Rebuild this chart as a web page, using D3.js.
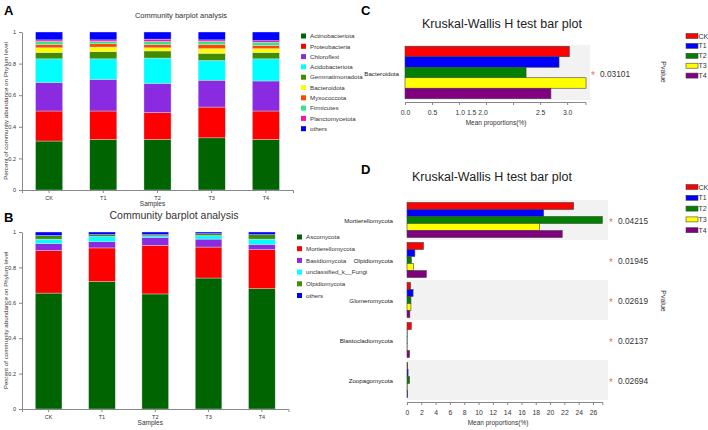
<!DOCTYPE html>
<html>
<head>
<meta charset="utf-8">
<script src="https://cdn.jsdelivr.net/npm/d3@7"></script>
<style>
  body { margin: 0; background: #fff; }
  text { font-family: "Liberation Sans", Arial, sans-serif; }
  .axis path, .axis line { stroke: #888; }
  .axis text { fill: #333; }
</style>
</head>
<body>
<div id="chart"></div>
<script>
// samples / groups
var samples = ["CK", "T1", "T2", "T3", "T4"];

// panel A - bacteria phyla (bottom to top)
var bacPhyla = ["Actinobacteriota", "Proteobacteria", "Chloroflexi", "Acidobacteriota",
  "Gemmatimonadota", "Bacteroidota", "Myxococcota", "Firmicutes", "Planctomycetota", "others"];
var bacColors = ["#006400", "#ff0000", "#8a2be2", "#00ffff", "#458b00",
  "#ffff00", "#ff4500", "#2ee88a", "#ff1493", "#0000ff"];
// rows = phylum, cols = CK,T1,T2,T3,T4
var bacAbund = [
  [0.31, 0.32, 0.32, 0.33, 0.32],
  [0.19, 0.18, 0.17, 0.195, 0.18],
  [0.18, 0.20, 0.185, 0.17, 0.19],
  [0.15, 0.13, 0.16, 0.125, 0.14],
  [0.04, 0.045, 0.045, 0.045, 0.04],
  [0.03, 0.03, 0.02, 0.03, 0.025],
  [0.02, 0.02, 0.02, 0.025, 0.02],
  [0.02, 0.015, 0.02, 0.02, 0.02],
  [0.01, 0.01, 0.015, 0.01, 0.01],
  [0.05, 0.05, 0.045, 0.05, 0.055]
];

// panel B - fungi phyla
var funPhyla = ["Ascomycota", "Mortierellomycota", "Basidiomycota", "unclassified_k__Fungi", "Olpidiomycota", "others"];
var funColors = ["#006400", "#ff0000", "#8a2be2", "#00ffff", "#458b00", "#0000ff"];
var funAbund = [
  [0.655, 0.72, 0.65, 0.74, 0.68],
  [0.24, 0.19, 0.275, 0.175, 0.22],
  [0.04, 0.035, 0.045, 0.045, 0.03],
  [0.025, 0.03, 0.008, 0.02, 0.03],
  [0.02, 0.01, 0.007, 0.01, 0.025],
  [0.02, 0.015, 0.015, 0.01, 0.015]
];
var abundTicks = [0, 0.2, 0.4, 0.6, 0.8, 1];

// panel C / D - Kruskal-Wallis
var groupColors = ["#ff0000", "#0000ff", "#008000", "#ffff00", "#800080"];
var kwCTaxa = ["Bacteroidota"];
var kwCMeans = [[3.04, 2.85, 2.24, 3.35, 2.70]];
var kwCP = ["0.03101"];
var kwCTicks = [0, 0.5, 1, 1.5, 2, 2.5, 3];
var kwCTickLabels = ["0.0", "0.5", "1.0 1.5 2.0", "", "", "2.5", "3.0"];

var kwDTaxa = ["Mortierellomycota", "Olpidiomycota", "Glomeromycota", "Blastocladiomycota", "Zoopagomycota"];
var kwDMeans = [
  [23.3, 19.1, 27.3, 18.5, 21.7],
  [2.3, 1.1, 0.6, 0.9, 2.7],
  [0.5, 0.85, 0.55, 0.55, 0.4],
  [0.6, 0.03, 0.03, 0.03, 0.35],
  [0.1, 0.15, 0.35, 0.05, 0.1]
];
var kwDP = ["0.04215", "0.01945", "0.02619", "0.02137", "0.02694"];
var kwDTicks = d3.range(0, 27, 2);

var svg = d3.select("#chart").append("svg")
  .attr("width", 708).attr("height", 430);

function panelLetter(x, y, t) {
  svg.append("text").attr("x", x).attr("y", y)
    .attr("font-size", 13).attr("font-weight", "bold").text(t);
}

// stacked barplot
function stackedPanel(opt) {
  var x = d3.scaleBand().domain(samples).range([opt.x0, opt.x1])
    .paddingInner(0.5).paddingOuter(0.25);
  var y = d3.scaleLinear().domain([0, 1]).range([opt.y0, opt.y1]);

  var rows = samples.map(function(s, j) {
    var r = { sample: s };
    opt.phyla.forEach(function(p, i) { r[p] = opt.abund[i][j]; });
    return r;
  });
  var series = d3.stack().keys(opt.phyla)(rows);

  var g = svg.append("g");
  g.selectAll("g.layer").data(series).enter().append("g")
    .attr("fill", function(d, i) { return opt.colors[i]; })
    .selectAll("rect").data(function(d) { return d; }).enter().append("rect")
    .attr("x", function(d) { return x(d.data.sample); })
    .attr("width", x.bandwidth())
    .attr("y", function(d) { return y(Math.min(d[1], 1)); })
    .attr("height", function(d) { return y(d[0]) - y(Math.min(d[1], 1)); })
    .attr("stroke", "#dde4ee").attr("stroke-width", 0.4);

  var yAxis = g.append("g").attr("class", "axis")
    .attr("transform", "translate(" + opt.x0 + ",0)")
    .call(d3.axisLeft(y).tickValues(abundTicks).tickFormat(d3.format("~g")).tickSize(3).tickSizeOuter(0));
  yAxis.selectAll("text").attr("font-size", 5.5);

  var xAxis = g.append("g").attr("class", "axis")
    .attr("transform", "translate(0," + opt.y0 + ")")
    .call(d3.axisBottom(x).tickSize(3));
  xAxis.selectAll("text").attr("font-size", 5.5);

  svg.append("text").attr("x", (opt.x0 + opt.x1) / 2 - 5).attr("y", opt.y0 + 16)
    .attr("text-anchor", "middle").attr("font-size", 6.5).attr("fill", "#333").text("Samples");
  svg.append("text")
    .attr("transform", "translate(" + 8 + "," + ((opt.y0 + opt.y1) / 2) + ")rotate(-90)")
    .attr("text-anchor", "middle").attr("font-size", 6.2).attr("fill", "#333")
    .text("Percent of community abundance on Phylum level");
  svg.append("text").attr("x", opt.titleX).attr("y", opt.titleY)
    .attr("text-anchor", "middle").attr("font-size", opt.titleSize).attr("fill", "#333")
    .text("Community barplot analysis");

  var leg = svg.append("g").attr("transform", "translate(" + opt.legX + "," + opt.legY + ")");
  opt.phyla.forEach(function(p, i) {
    leg.append("rect").attr("x", 0).attr("y", i * opt.legStep - 2.5)
      .attr("width", 5).attr("height", 5).attr("fill", opt.colors[i]);
    leg.append("text").attr("x", 9).attr("y", i * opt.legStep + 2.2)
      .attr("font-size", 6.2).attr("fill", "#333").text(p);
  });
}

panelLetter(4, 15, "A");
stackedPanel({ phyla: bacPhyla, colors: bacColors, abund: bacAbund,
  x0: 22, x1: 293, y0: 190, y1: 32, titleX: 181, titleY: 18, titleSize: 7.5,
  legX: 301, legY: 36, legStep: 10.3 });

panelLetter(4, 222, "B");
stackedPanel({ phyla: funPhyla, colors: funColors, abund: funAbund,
  x0: 22, x1: 288.5, y0: 409, y1: 232, titleX: 174, titleY: 219, titleSize: 10.5,
  legX: 297, legY: 237, legStep: 11.7 });

// Kruskal-Wallis bar plot
function kwPanel(opt) {
  var x = d3.scaleLinear().domain([0, opt.xMax]).range([opt.x0, opt.x1]);
  var yb = d3.scaleBand().domain(opt.taxa).range([opt.y0, opt.y1]);
  var yi = d3.scaleBand().domain(samples).range([0, yb.bandwidth()])
    .paddingOuter(opt.innerPad);

  var g = svg.append("g");
  g.selectAll("rect.bg").data(opt.taxa).enter().append("rect")
    .attr("x", opt.x0).attr("width", opt.bgRight - opt.x0)
    .attr("y", function(d) { return yb(d); }).attr("height", yb.bandwidth())
    .attr("fill", function(d, i) { return i % 2 === 0 ? "#f2f2f2" : "#fff"; });

  opt.taxa.forEach(function(t, i) {
    g.selectAll("rect.b" + i).data(opt.means[i]).enter().append("rect")
      .attr("x", x(0))
      .attr("y", function(d, j) { return yb(t) + yi(samples[j]); })
      .attr("width", function(d) { return x(d) - x(0); })
      .attr("height", yi.bandwidth())
      .attr("fill", function(d, j) { return groupColors[j]; })
      .attr("stroke", "#444").attr("stroke-width", 0.6);
    var cy = yb(t) + yb.bandwidth() / 2 + 2;
    g.append("text").attr("x", opt.labelRight).attr("y", cy + 1)
      .attr("text-anchor", "end").attr("font-size", 6.2).attr("fill", "#222").text(t);
    g.append("text").attr("x", opt.starX).attr("y", cy + 4)
      .attr("text-anchor", "middle").attr("font-size", 10).attr("fill", "#f07070").text("*");
    g.append("text").attr("x", opt.starX + 7).attr("y", cy + 2)
      .attr("font-size", 8.3).attr("fill", "#333").text(opt.p[i]);
  });

  var ax = g.append("g").attr("class", "axis")
    .attr("transform", "translate(0," + (opt.y1 + 2) + ")")
    .call(d3.axisBottom(x).tickValues(opt.ticks).tickSize(3).tickSizeOuter(3)
      .tickFormat(function(d, i) { return opt.tickLabels ? opt.tickLabels[i] : d; }));
  ax.select(".domain").attr("stroke", "#aaa");
  ax.selectAll("text").attr("font-size", 6.8).attr("dy", "1.1em");
  if (opt.tickLabels) {
    ax.selectAll("text").filter(function(d) { return d === 1; })
      .attr("text-anchor", "start").attr("dx", -4);
  }

  svg.append("text").attr("x", opt.axisLabelX).attr("y", opt.y1 + 25)
    .attr("text-anchor", "middle").attr("font-size", 6.5).attr("fill", "#333")
    .text("Mean proportions(%)");
  svg.append("text").attr("x", opt.titleX).attr("y", opt.titleY)
    .attr("text-anchor", "middle").attr("font-size", 12.5).attr("fill", "#222")
    .text("Kruskal-Wallis H test bar plot");
  svg.append("text")
    .attr("transform", "translate(" + 661 + "," + opt.pvalY + ")rotate(90)")
    .attr("text-anchor", "middle").attr("font-size", 7).attr("fill", "#333").text("Pvalue");

  var leg = svg.append("g").attr("transform", "translate(686," + opt.legY + ")");
  samples.forEach(function(s, j) {
    leg.append("rect").attr("x", 0).attr("y", j * opt.legStep - 2.5)
      .attr("width", 12).attr("height", 5).attr("fill", groupColors[j])
      .attr("stroke", "#444").attr("stroke-width", 0.6);
    leg.append("text").attr("x", 12.5).attr("y", j * opt.legStep + 2.5)
      .attr("font-size", 7).attr("fill", "#333").text(s);
  });
}

panelLetter(361, 15, "C");
kwPanel({ taxa: kwCTaxa, means: kwCMeans, p: kwCP, xMax: 3.34, x0: 405, x1: 585.5,
  y0: 45, y1: 100, bgRight: 590, innerPad: 0.12, ticks: kwCTicks, tickLabels: kwCTickLabels,
  labelRight: 399, starX: 593, axisLabelX: 496, titleX: 502, titleY: 28,
  pvalY: 72, legY: 36, legStep: 9.9 });

panelLetter(361, 174, "D");
kwPanel({ taxa: kwDTaxa, means: kwDMeans, p: kwDP, xMax: 27.3, x0: 407, x1: 602.3,
  y0: 200, y1: 400, bgRight: 608, innerPad: 0.35, ticks: kwDTicks, tickLabels: null,
  labelRight: 393, starX: 611, axisLabelX: 498, titleX: 492, titleY: 181,
  pvalY: 301, legY: 187, legStep: 10.8 });
</script>
</body>
</html>
